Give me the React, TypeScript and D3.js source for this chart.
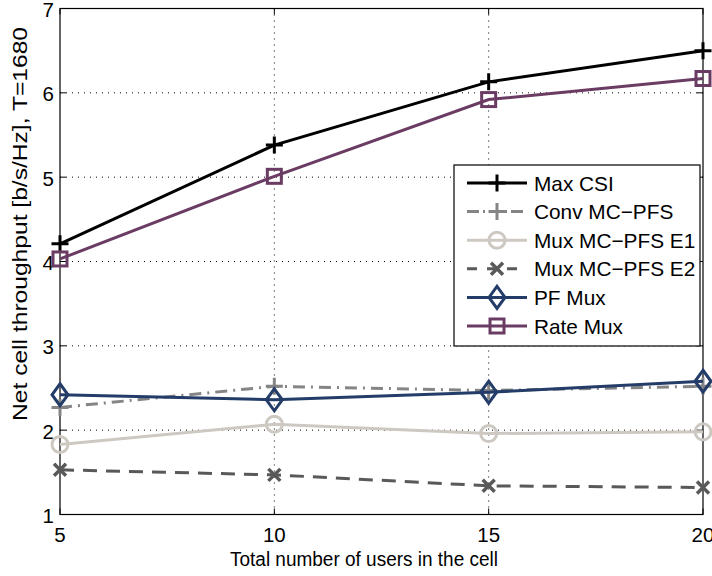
import React from "react";
import * as d3 from "d3";

const users = [5, 10, 15, 20];
const maxCSI = [4.21, 5.38, 6.13, 6.5];
const convMCPFS = [2.27, 2.52, 2.47, 2.52];
const muxE1 = [1.83, 2.07, 1.96, 1.98];
const muxE2 = [1.53, 1.47, 1.34, 1.32];
const pfMux = [2.42, 2.36, 2.45, 2.58];
const rateMux = [4.03, 5.01, 5.92, 6.17];
const xTicks = [5, 10, 15, 20];
const yTicks = [1, 2, 3, 4, 5, 6, 7];

type Marker = "plus" | "circle" | "x" | "diamond" | "square";
interface Series { name: string; values: number[]; color: string; dash: string; marker: Marker; }

const series: Series[] = [
  { name: "Max CSI", values: maxCSI, color: "#000000", dash: "", marker: "plus" },
  { name: "Conv MC\u2212PFS", values: convMCPFS, color: "#858585", dash: "12 6 2 6", marker: "plus" },
  { name: "Mux MC\u2212PFS E1", values: muxE1, color: "#cdc9c2", dash: "", marker: "circle" },
  { name: "Mux MC\u2212PFS E2", values: muxE2, color: "#595959", dash: "14 9", marker: "x" },
  { name: "PF Mux", values: pfMux, color: "#233c68", dash: "", marker: "diamond" },
  { name: "Rate Mux", values: rateMux, color: "#6b3c63", dash: "", marker: "square" },
];

const L = 60, R = 703, T = 8.5, B = 514.5;
const FONT = "'Liberation Sans', Arial, Helvetica, sans-serif";

function MarkerShape({ m, x, y, color }: { m: Marker; x: number; y: number; color: string }) {
  const sw = 3;
  switch (m) {
    case "plus":
      return <path d={`M${x - 8.5},${y}H${x + 8.5}M${x},${y - 8.5}V${y + 8.5}`} stroke={color} strokeWidth={sw} fill="none" />;
    case "x":
      return <path d={`M${x - 6},${y - 6}L${x + 6},${y + 6}M${x - 6},${y + 6}L${x + 6},${y - 6}`} stroke={color} strokeWidth={3.5} fill="none" />;
    case "circle":
      return <circle cx={x} cy={y} r={8} stroke={color} strokeWidth={sw} fill="none" />;
    case "diamond":
      return <path d={`M${x},${y - 11}L${x + 8},${y}L${x},${y + 11}L${x - 8},${y}Z`} stroke={color} strokeWidth={sw} fill="none" />;
    case "square":
      return <rect x={x - 7} y={y - 7} width={14} height={14} stroke={color} strokeWidth={sw} fill="none" />;
  }
}

export default function App() {
  const x = d3.scaleLinear().domain([5, 20]).range([L, R]);
  const y = d3.scaleLinear().domain([1, 7]).range([B, T]);
  const line = d3.line<number>().x((_, i) => x(users[i])).y((d) => y(d));

  const legX = 454, legY = 165, legW = 246, legH = 181, rowH = 28.6;

  return (
    <svg width={712} height={576} style={{ position: "absolute", left: 0, top: 0, background: "#fff" }} fontFamily={FONT}>
      <rect width={712} height={576} fill="#fff" />
      {/* grid */}
      {xTicks.slice(1, -1).map((t) => (
        <line key={"gx" + t} x1={x(t)} x2={x(t)} y1={T} y2={B} stroke="#000" strokeWidth={1} strokeDasharray="1 5" />
      ))}
      {yTicks.slice(1, -1).map((t) => (
        <line key={"gy" + t} x1={L} x2={R} y1={y(t)} y2={y(t)} stroke="#000" strokeWidth={1} strokeDasharray="1 5" />
      ))}
      {/* ticks */}
      {xTicks.map((t) => (
        <g key={"tx" + t}>
          <line x1={x(t)} x2={x(t)} y1={B} y2={B - 6} stroke="#000" />
          <line x1={x(t)} x2={x(t)} y1={T} y2={T + 6} stroke="#000" />
          <text x={x(t)} y={542} textAnchor="middle" fontSize={20.5}>{t}</text>
        </g>
      ))}
      {yTicks.map((t) => (
        <g key={"ty" + t}>
          <line x1={L} x2={L + 6} y1={y(t)} y2={y(t)} stroke="#000" />
          <line x1={R} x2={R - 6} y1={y(t)} y2={y(t)} stroke="#000" />
          <text x={L - 6} y={y(t) + 8.5} textAnchor="end" fontSize={20.5}>{t}</text>
        </g>
      ))}
      <rect x={L} y={T} width={R - L} height={B - T} fill="none" stroke="#000" strokeWidth={1.2} />
      {/* series */}
      {series.map((s) => (
        <g key={s.name}>
          <path d={line(s.values) || ""} fill="none" stroke={s.color} strokeWidth={3} strokeDasharray={s.dash || undefined} />
          {s.values.map((v, i) => (
            <MarkerShape key={i} m={s.marker} x={x(users[i])} y={y(v)} color={s.color} />
          ))}
        </g>
      ))}
      {/* legend */}
      <rect x={legX} y={legY} width={legW} height={legH} fill="#fff" stroke="#000" strokeWidth={1.2} />
      {series.map((s, i) => {
        const cy = legY + 18 + i * rowH;
        return (
          <g key={"lg" + s.name}>
            <line x1={467} x2={527} y1={cy} y2={cy} stroke={s.color} strokeWidth={3} strokeDasharray={s.dash ? (s.marker === "x" ? "10 10" : "12 4 2 4") : undefined} />
            <MarkerShape m={s.marker} x={497} y={cy} color={s.color} />
            <text x={534} y={cy + 7.5} fontSize={20.8}>{s.name}</text>
          </g>
        );
      })}
      {/* axis labels */}
      <text x={364} y={566} textAnchor="middle" fontSize={20} textLength={268} lengthAdjust="spacingAndGlyphs">Total number of users in the cell</text>
      <text transform={`translate(27,224) rotate(-90)`} textAnchor="middle" fontSize={20.5} textLength={394} lengthAdjust="spacingAndGlyphs">Net cell throughput [b/s/Hz], T=1680</text>
    </svg>
  );
}
